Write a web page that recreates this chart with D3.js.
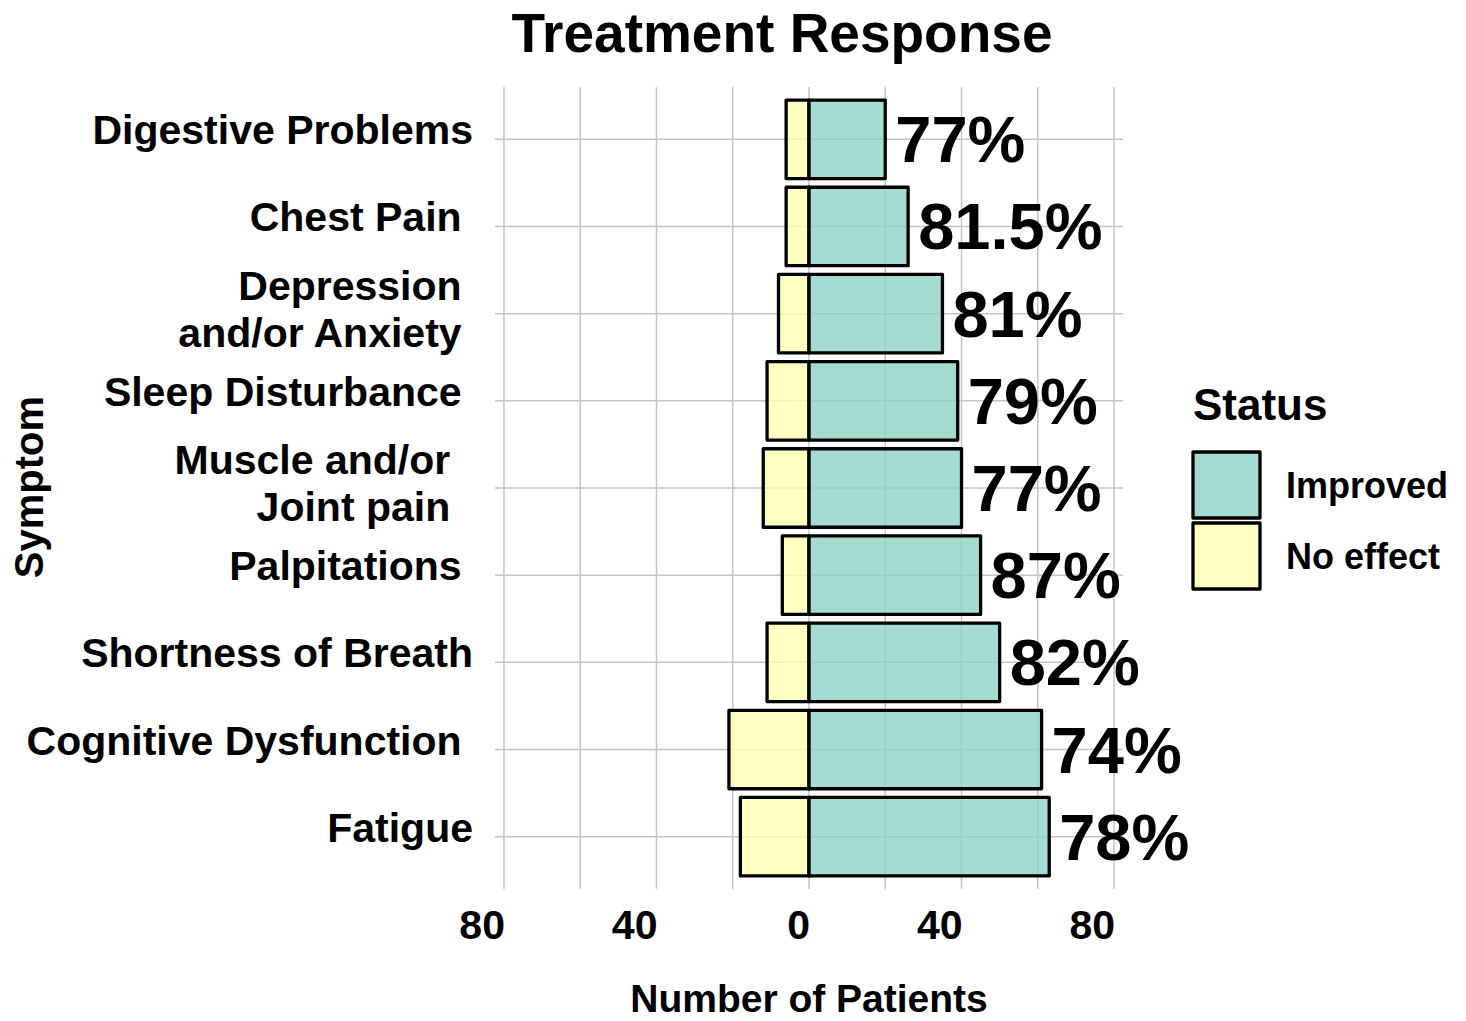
<!DOCTYPE html>
<html>
<head>
<meta charset="utf-8">
<script src="https://d3js.org/d3.v7.min.js"></script>
<style>
    body { margin: 0; background: #fff; }
    text { font-family: "Liberation Sans", Arial, sans-serif; font-weight: bold; fill: #000; white-space: pre; }
</style>
</head>
<body>
<div id="graph"></div>
<script>
// symptoms, top to bottom (labels kept with the spacing seen in the original)
var symptoms = [
    ["Digestive Problems"],
    ["Chest Pain "],
    ["Depression ", "and/or Anxiety "],
    ["Sleep Disturbance "],
    ["Muscle and/or  ", "Joint pain  "],
    ["Palpitations "],
    ["Shortness of Breath"],
    ["Cognitive Dysfunction "],
    ["Fatigue"]
];
var improved = [20, 26, 35, 39, 40, 45, 50, 61, 63];
var noEffect = [6, 6, 8, 11, 12, 7, 11, 21, 18];
var pctLabels = ["77%", "81.5%", "81%", "79%", "77%", "87%", "82%", "74%", "78%"];
var statusNames = ["Improved", "No effect"];
var statusColors = ["#8DD3C7", "#FFFFB3"];
var majorTicks = [-80, -40, 0, 40, 80];
var minorTicks = [-60, -20, 20, 60];

var width = 1466, height = 1021;
var panel = {left: 495, right: 1123, top: 87, bottom: 889};

var svg = d3.select("#graph").append("svg").attr("width", width).attr("height", height);

var x = d3.scaleLinear().domain([-82.35, 82.35]).range([panel.left, panel.right]);
var y = d3.scalePoint().domain(d3.range(symptoms.length)).range([panel.top, panel.bottom]).padding(0.6);
var barH = y.step() * 0.9;
var color = d3.scaleOrdinal().domain(statusNames).range(statusColors);

// grid
svg.append("g").selectAll("line")
    .data(majorTicks.concat(minorTicks)).enter().append("line")
    .attr("x1", function (d) { return x(d); })
    .attr("x2", function (d) { return x(d); })
    .attr("y1", panel.top).attr("y2", panel.bottom)
    .attr("stroke", "#c4c4c4").attr("stroke-width", 1.5);

svg.append("g").selectAll("line")
    .data(d3.range(symptoms.length)).enter().append("line")
    .attr("x1", panel.left).attr("x2", panel.right)
    .attr("y1", function (d) { return y(d); })
    .attr("y2", function (d) { return y(d); })
    .attr("stroke", "#c4c4c4").attr("stroke-width", 1.5);

// bars
var rows = d3.range(symptoms.length).map(function (i) {
    return {i: i, imp: improved[i], no: noEffect[i], pct: pctLabels[i]};
});

var bars = svg.append("g");
bars.selectAll(".no").data(rows).enter().append("rect")
    .attr("x", function (d) { return x(-d.no); })
    .attr("y", function (d) { return y(d.i) - barH / 2; })
    .attr("width", function (d) { return x(0) - x(-d.no); })
    .attr("height", barH)
    .attr("fill", color("No effect")).attr("fill-opacity", 0.8)
    .attr("stroke", "#000").attr("stroke-width", 3.3).attr("stroke-linejoin", "round");

bars.selectAll(".imp").data(rows).enter().append("rect")
    .attr("x", x(0))
    .attr("y", function (d) { return y(d.i) - barH / 2; })
    .attr("width", function (d) { return x(d.imp) - x(0); })
    .attr("height", barH)
    .attr("fill", color("Improved")).attr("fill-opacity", 0.8)
    .attr("stroke", "#000").attr("stroke-width", 3.3).attr("stroke-linejoin", "round");

// percent labels
svg.append("g").selectAll("text").data(rows).enter().append("text")
    .attr("x", function (d) { return x(d.imp) + 10; })
    .attr("y", function (d) { return y(d.i) + 23; })
    .style("font-size", "65px")
    .text(function (d) { return d.pct; });

// y axis labels
var ylab = svg.append("g").selectAll("text").data(rows).enter().append("text")
    .attr("text-anchor", "end")
    .style("font-size", "41px");
ylab.each(function (d) {
    var lines = symptoms[d.i];
    var t = d3.select(this);
    lines.forEach(function (ln, k) {
        var dy = lines.length === 1 ? 5 : (k === 0 ? -14 : 33);
        t.append("tspan").attr("x", 473).attr("y", y(d.i) + dy).text(ln);
    });
});

// x axis labels (right aligned on grid line)
svg.append("g").selectAll("text").data(majorTicks).enter().append("text")
    .attr("x", function (d) { return x(d) + 1; })
    .attr("y", 939)
    .attr("text-anchor", "end")
    .style("font-size", "41px")
    .text(function (d) { return Math.abs(d); });

// titles
svg.append("text").attr("x", 782).attr("y", 52).attr("text-anchor", "middle")
    .style("font-size", "55px").text("Treatment Response");
svg.append("text").attr("x", 809).attr("y", 1012).attr("text-anchor", "middle")
    .style("font-size", "39px").text("Number of Patients");
svg.append("text").attr("transform", "translate(43,487) rotate(-90)").attr("text-anchor", "middle")
    .style("font-size", "40px").text("Symptom");

// legend
var legend = svg.append("g").attr("transform", "translate(1193,0)");
legend.append("text").attr("x", 0).attr("y", 420).style("font-size", "44px").text("Status");
var keys = legend.selectAll("g").data(statusNames).enter().append("g")
    .attr("transform", function (d, i) { return "translate(0," + (452 + i * 71) + ")"; });
keys.append("rect")
    .attr("width", 67).attr("height", 66)
    .attr("fill", function (d) { return color(d); }).attr("fill-opacity", 0.8)
    .attr("stroke", "#000").attr("stroke-width", 3.3).attr("stroke-linejoin", "round");
keys.append("text").attr("x", 93).attr("y", 46)
    .style("font-size", "36px")
    .text(function (d) { return d; });
</script>
</body>
</html>
